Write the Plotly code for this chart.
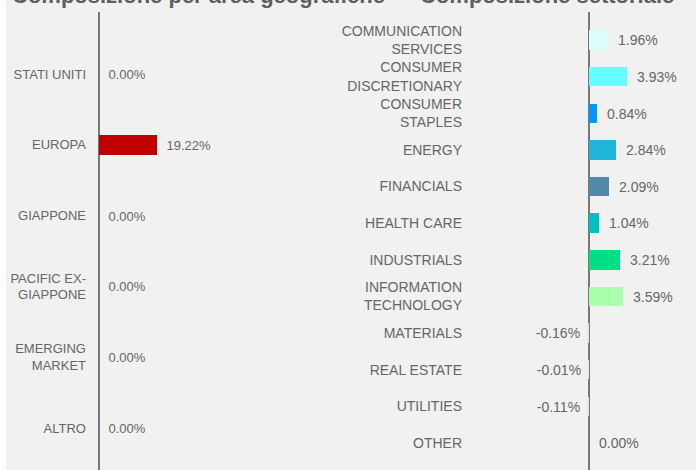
import plotly.graph_objects as go

# ---- data ----
geo_categories = ["STATI UNITI", "EUROPA", "GIAPPONE", "PACIFIC EX-<br>GIAPPONE",
                  "EMERGING<br>MARKET", "ALTRO"]
geo_values = [0.00, 19.22, 0.00, 0.00, 0.00, 0.00]
geo_colors = ["#c00000", "#c00000", "#c00000", "#c00000", "#c00000", "#c00000"]

sector_categories = ["COMMUNICATION<br>SERVICES", "CONSUMER<br>DISCRETIONARY",
                     "CONSUMER<br>STAPLES", "ENERGY", "FINANCIALS", "HEALTH CARE",
                     "INDUSTRIALS", "INFORMATION<br>TECHNOLOGY", "MATERIALS",
                     "REAL ESTATE", "UTILITIES", "OTHER"]
sector_values = [1.96, 3.93, 0.84, 2.84, 2.09, 1.04, 3.21, 3.59, -0.16, -0.01, -0.11, 0.00]
sector_colors = ["#dcfcfc", "#66ffff", "#0099ff", "#20b4d6", "#508aa8", "#00c0c0",
                 "#00df85", "#aaffaa", "#e6e6e6", "#e6e6e6", "#e6e6e6", "#e6e6e6"]

title_left = "Composizione per area geografiche"
title_right = "Composizione settoriale"

TXT = "#666666"
FONT = "Liberation Sans, Arial, sans-serif"


def labels(vals):
    out = []
    for v in vals:
        s = f"{v:.2f}%"
        out.append(s + "\u00a0" if v < 0 else "\u2002" + s)
    return out


fig = go.Figure()
fig.add_trace(go.Bar(
    x=geo_values, y=geo_categories, orientation="h",
    marker=dict(color=geo_colors, line=dict(width=0)),
    width=0.282, text=labels(geo_values), textposition="outside",
    textfont=dict(color=TXT, size=13, family=FONT), cliponaxis=False,
    constraintext="none", xaxis="x", yaxis="y", showlegend=False,
    hoverinfo="skip"))
fig.add_trace(go.Bar(
    x=sector_values, y=sector_categories, orientation="h",
    marker=dict(color=sector_colors, line=dict(width=0)),
    width=0.53, text=labels(sector_values), textposition="outside",
    textfont=dict(color=TXT, size=14, family=FONT), cliponaxis=False,
    constraintext="none", xaxis="x2", yaxis="y2", showlegend=False,
    hoverinfo="skip"))

W, H = 696, 470
ML = 6


def px(x):
    return (x - ML) / (W - ML)


ytop = 1 - 12 / H

common_x = dict(showgrid=False, showticklabels=False, zeroline=True,
                zerolinecolor="#777777", zerolinewidth=2, showline=False, ticks="",
                layer="above traces")
common_y = dict(type="category", showgrid=False, showline=False, zeroline=False,
                ticks="", ticklabelstandoff=11)

fig.update_layout(
    width=W, height=H,
    margin=dict(l=ML, r=0, t=0, b=0),
    paper_bgcolor="#ffffff",
    plot_bgcolor="rgba(0,0,0,0)",
    font=dict(family=FONT, color=TXT, size=13),
    bargap=0,
    xaxis=dict(domain=[px(98), px(298)], range=[-0.331, 65.89], anchor="y", **common_x),
    yaxis=dict(domain=[0, ytop], range=[5.593, -0.876], anchor="x",
               categoryorder="array", categoryarray=geo_categories,
               tickfont=dict(color=TXT, size=13, family=FONT), **common_y),
    xaxis2=dict(domain=[px(474), 1], range=[-11.979, 11.146], anchor="y2", **common_x),
    yaxis2=dict(domain=[0, ytop], range=[11.737, -0.764], anchor="x2",
                categoryorder="array", categoryarray=sector_categories,
                tickfont=dict(color=TXT, size=14, family=FONT), **common_y),
    shapes=[dict(type="rect", xref="paper", yref="paper", x0=0, x1=1, y0=0, y1=1.01,
                 fillcolor="#f1f1f1", line=dict(width=0), layer="below")],
    annotations=[
        dict(text=f"<b>{title_left}</b>", xref="paper", yref="paper",
             x=px(199), y=1, xanchor="center", yanchor="middle", yshift=5,
             showarrow=False, font=dict(size=22, color="#5f5f5f", family=FONT)),
        dict(text=f"<b>{title_right}</b>", xref="paper", yref="paper",
             x=px(546.5), y=1, xanchor="center", yanchor="middle", yshift=5,
             showarrow=False, font=dict(size=22, color="#5f5f5f", family=FONT)),
    ],
)

fig.write_html("out.html")
